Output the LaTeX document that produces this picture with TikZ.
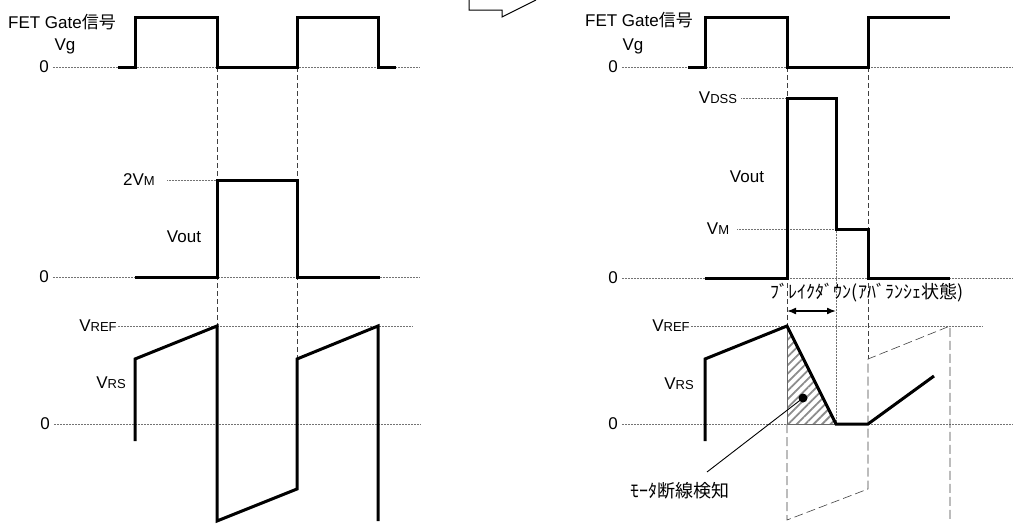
\documentclass[tikz,border=0pt]{standalone}
\usepackage{fontspec}
\setmainfont{Liberation Sans}
\newfontfamily\jpfont{Noto Sans CJK JP}
\usetikzlibrary{arrows.meta,patterns.meta}

\newcommand{\subcap}[1]{{\fontsize{13}{13}\selectfont #1}}

\begin{document}
\begin{tikzpicture}[x=1pt,y=-1pt,
  lbl/.style={font=\fontsize{17}{17}\selectfont, inner sep=0pt},
  jlbl/.style={font=\jpfont\fontsize{18}{18}\selectfont, inner sep=0pt},
  wave/.style={line width=3pt},
  zero/.style={black!55, line width=0.6pt, dash pattern=on 1pt off 0.5pt},
  level/.style={black!55, line width=0.6pt, dash pattern=on 1pt off 0.5pt},
  guide/.style={black!75, line width=0.6pt, dash pattern=on 5pt off 3pt},
  ghost/.style={black!75, line width=0.6pt, dash pattern=on 9pt off 4pt}]

  \useasboundingbox (0,0) rectangle (1013,525);

  % block arrow, cut at the top
  \draw[line width=1pt, line join=miter] (469,0) -- (469,10) -- (502,10) -- (502,17) -- (536,0);

  % left: normal
  \draw (62,22) node (fetA) [lbl] {FET Gate{\jpfont 信号}};
  \draw (65,46) node (vgA) [lbl] {Vg};
  \draw (44,67) node (zgA) [lbl] {0};
  \draw (139,180) node (vmA) [lbl] {2V\subcap{M}};
  \draw (184,237) node (voA) [lbl] {Vout};
  \draw (44,277) node (zoA) [lbl] {0};
  \draw (98,326) node (refA) [lbl] {V\subcap{REF}};
  \draw (111,383) node (rsA) [lbl] {V\subcap{RS}};
  \draw (45,424) node (zrA) [lbl] {0};

  \draw[zero, ] (zgA.east) ++(4,0) -- (420,67);
  \draw[zero, ] (zoA.east) ++(4,0) -- (420,277);
  \draw[zero, ] (zrA.east) ++(4,0) -- (420,424);
  \draw[level, ] (vmA.east) ++(12,0) -- (217,180);
  \draw[level, ] (refA.east) ++(1,0) -- (413,326);

  \draw[guide, ] (217,67) -- (217,326);
  \draw[guide, ] (297,67) -- (297,359);

  \draw[wave, ] (118,67) -| (135,17) -| (217,67) -| (297,17) -| (378,67) -- (396,67);
  \draw[wave, ] (135,277) -| (217,180) -| (297,277) -- (380,277);
  \draw[wave, ] (135,441) -- (135,359) -- (217,326) -- (217,521) -- (297,489) -- (297,359) -- (378,326) -- (378,521);

  \begin{scope}[shift={(570,0)}]

  % right: open motor line
  \draw (69,20) node (fetB) [lbl] {FET Gate{\jpfont 信号}};
  \draw (63,46) node (vgB) [lbl] {Vg};
  \draw (43,67) node (zgB) [lbl] {0};
  \draw (148,98) node (dssB) [lbl] {V\subcap{DSS}};
  \draw (177,177) node (voB) [lbl] {Vout};
  \draw (148,229) node (vmB) [lbl] {V\subcap{M}};
  \draw (43,278) node (zoB) [lbl] {0};
  \draw (101,326) node (refB) [lbl] {V\subcap{REF}};
  \draw (109,384) node (rsB) [lbl] {V\subcap{RS}};
  \draw (43,424) node (zrB) [lbl] {0};

  \draw[zero, ] (zgB.east) ++(4,0) -- (443,67);
  \draw[zero, ] (zoB.east) ++(4,0) -- (443,278);
  \draw[zero, ] (zrB.east) ++(4,0) -- (443,424);
  \draw[level, ] (dssB.east) ++(4,0) -- (217,98);
  \draw[level, ] (vmB.east) ++(8,0) -- (266,229);
  \draw[level, ] (refB.east) ++(1,0) -- (413,326);
  \draw[level, ] (266,229) -- (266,424);

  \draw[guide, ] (217,67) -- (217,424);
  \draw[guide, ] (298,67) -- (298,359);
  \draw[ghost, ] (217,424) -- (217,520) -- (298,489) -- (298,359) -- (380,326) -- (380,520);

  \fill[pattern={Lines[angle=45,distance=6pt,line width=1.8pt]}, pattern color=black!45] (217,326) -- (217,424) -- (266,424) -- cycle;
  \draw[black!60, line width=0.8pt] (217,326) -- (217,424) -- (266,424);

  \draw[wave, ] (118,67) -| (135,17) -| (217,67) -| (298,17) -- (380,17);
  \draw[wave, ] (135,278) -| (217,98) -| (266,229) -| (298,278) -- (380,278);
  \draw[wave, ] (135,441) -- (135,359) -- (217,326) -- (266,424) -- (298,424) -- (364,376);

  \draw (297,293) node (bdB) [jlbl] {ﾌﾞﾚｲｸﾀﾞｳﾝ(ｱﾊﾞﾗﾝｼｪ状態)};
  \coordinate (bdL) at (217,311);
  \coordinate (bdR) at (266,311);
  \draw[{Latex[length=9pt,width=7pt]}-{Latex[length=9pt,width=7pt]}, line width=1.6pt] (bdL) -- (bdR);

  \draw (233,398) node (detB) [circle, fill, inner sep=0pt, minimum size=9pt] {};
  \draw (110,491) node (detL) [jlbl] {ﾓｰﾀ断線検知};
  \coordinate (leadB) at (137,472);
  \draw[line width=0.9pt, ] (detB.center) -- (leadB);

  \end{scope}

\end{tikzpicture}
\end{document}
